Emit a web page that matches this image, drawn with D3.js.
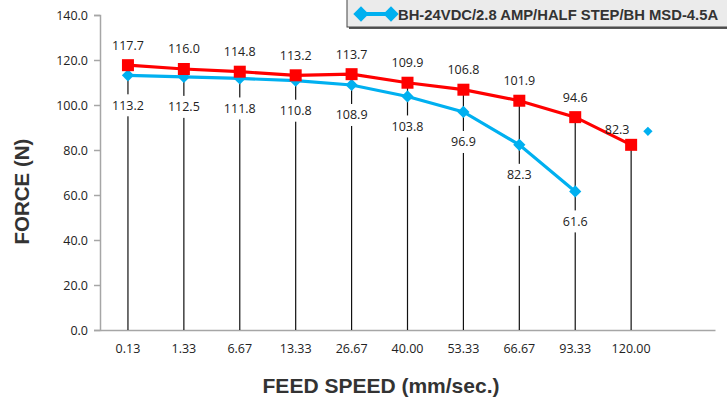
<!DOCTYPE html>
<html>
<head>
<meta charset="utf-8">
<script src="https://cdn.jsdelivr.net/npm/d3@7"></script>
<style>
  body { margin: 0; background: #fff; }
  .tick text { font-family: "Open Sans", sans-serif; font-size: 12.5px; fill: #222; }
  .lbl { font-family: "Open Sans", sans-serif; font-size: 12.5px; fill: #222; }
  .title { font-family: "Liberation Sans", Arial, sans-serif; font-weight: bold; fill: #333; }
</style>
</head>
<body>
<script>
// feed speed categories (mm/sec.)
var speeds = ["0.13","1.33","6.67","13.33","26.67","40.00","53.33","66.67","93.33","120.00",""];
// red series
var redValues = [117.7,116.0,114.8,113.2,113.7,109.9,106.8,101.9,94.6,82.3];
// blue series (BH-24VDC/2.8 AMP/HALF STEP/BH MSD-4.5A)
var blueValues = [113.2,112.5,111.8,110.8,108.9,103.8,96.9,82.3,61.6];
// stray blue point drawn beside the last category
var strayBlue = {after: "120.00", value: 88.3};
var yTicks = [0,20,40,60,80,100,120,140];
var legendLabel = "BH-24VDC/2.8 AMP/HALF STEP/BH MSD-4.5A";

var W = 727, H = 401;
var m = {left: 100, right: 12, top: 15, bottom: 71};

var svg = d3.select("body").append("svg")
  .attr("width", W).attr("height", H);

var x = d3.scaleBand().domain(speeds)
  .range([m.left, W - m.right]);
var y = d3.scaleLinear().domain([0,140])
  .range([H - m.bottom, m.top]);
var cx = function(i){ return x(speeds[i]) + x.bandwidth()/2; };

// axes
var yAxis = svg.append("g")
  .attr("transform", "translate(" + m.left + ",0)")
  .call(d3.axisLeft(y).tickValues(yTicks).tickSize(6).tickPadding(6).tickFormat(d3.format(".1f")));
yAxis.selectAll("line, path").attr("stroke", "#a6a6a6").attr("stroke-width", 1.5);

var xAxis = svg.append("g")
  .attr("transform", "translate(0," + (H - m.bottom) + ")")
  .call(d3.axisBottom(x).tickSize(0).tickPadding(14));
xAxis.select("path").attr("stroke", "#a6a6a6").attr("stroke-width", 1.5);

// drop lines from red points to the axis
svg.selectAll(".drop").data(redValues).enter().append("line")
  .attr("x1", function(d,i){ return cx(i); })
  .attr("x2", function(d,i){ return cx(i); })
  .attr("y1", function(d){ return y(d); })
  .attr("y2", y(0))
  .attr("stroke", "#111").attr("stroke-width", 1.2);

// blue labels below blue points (with white box interrupting the drop line)
var bl = svg.selectAll(".blbl").data(blueValues).enter().append("g")
  .attr("transform", function(d,i){ return "translate(" + cx(i) + "," + (y(d) + 30) + ")"; });
bl.append("rect").attr("x", -17).attr("y", -11).attr("width", 34).attr("height", 22).attr("fill", "#fff");
bl.append("text").attr("class", "lbl").attr("text-anchor", "middle").attr("dy", "0.35em")
  .text(function(d){ return d.toFixed(1); });

// lines
var line = d3.line().x(function(d,i){ return cx(i); }).y(function(d){ return y(d); });
svg.append("path").datum(blueValues).attr("d", line)
  .attr("fill", "none").attr("stroke", "#00b0f0").attr("stroke-width", 3.2);
svg.append("path").datum(redValues).attr("d", line)
  .attr("fill", "none").attr("stroke", "#ff0000").attr("stroke-width", 3.2);

// markers
var diamond = d3.symbol().type(d3.symbolDiamond2).size(95);
svg.selectAll(".bm").data(blueValues).enter().append("path")
  .attr("d", diamond)
  .attr("transform", function(d,i){ return "translate(" + cx(i) + "," + y(d) + ")"; })
  .attr("fill", "#00b0f0");
svg.append("path").attr("d", d3.symbol().type(d3.symbolDiamond2).size(55))
  .attr("transform", "translate(" + (x(strayBlue.after) + x.bandwidth()*0.8) + "," + y(strayBlue.value) + ")")
  .attr("fill", "#00b0f0");
svg.selectAll(".rm").data(redValues).enter().append("rect")
  .attr("x", function(d,i){ return cx(i) - 6; })
  .attr("y", function(d){ return y(d) - 6; })
  .attr("width", 12).attr("height", 12)
  .attr("fill", "#ff0000");

// red labels above red points
svg.selectAll(".rlbl").data(redValues).enter().append("text")
  .attr("class", "lbl").attr("text-anchor", "middle").attr("dy", "0.35em")
  .attr("x", function(d,i){ return cx(i) - (i === redValues.length - 1 ? 14 : 0); })
  .attr("y", function(d,i){ return y(d) - (i === redValues.length - 1 ? 15 : 20); })
  .text(function(d){ return d.toFixed(1); });

// axis titles
svg.append("text").attr("class", "title").attr("font-size", 21)
  .attr("text-anchor", "middle").attr("x", 381).attr("y", 393)
  .text("FEED SPEED (mm/sec.)");
svg.append("text").attr("class", "title").attr("font-size", 20.5)
  .attr("text-anchor", "middle")
  .attr("transform", "translate(29," + (m.top + (H - m.bottom - m.top)/2 + 19) + ") rotate(-90)")
  .text("FORCE (N)");

// legend
var lg = svg.append("g").attr("transform", "translate(347,0)");
lg.append("rect").attr("x", 2).attr("y", -2).attr("width", 400).attr("height", 31)
  .attr("fill", "#555");
lg.append("rect").attr("x", 0).attr("y", -4).attr("width", 400).attr("height", 31)
  .attr("fill", "#ebebeb").attr("stroke", "#444").attr("stroke-width", 1);
var lgDiamond = d3.symbol().type(d3.symbolDiamond2).size(150);
lg.append("line").attr("x1", 10).attr("x2", 46).attr("y1", 14).attr("y2", 14)
  .attr("stroke", "#00b0f0").attr("stroke-width", 4);
lg.append("path").attr("d", lgDiamond).attr("transform", "translate(14,14)").attr("fill", "#00b0f0");
lg.append("path").attr("d", lgDiamond).attr("transform", "translate(44,14)").attr("fill", "#00b0f0");
lg.append("text").attr("class", "title").attr("font-size", 14.8).attr("x", 51).attr("y", 20)
  .attr("fill", "#222").text(legendLabel);
</script>
</body>
</html>
